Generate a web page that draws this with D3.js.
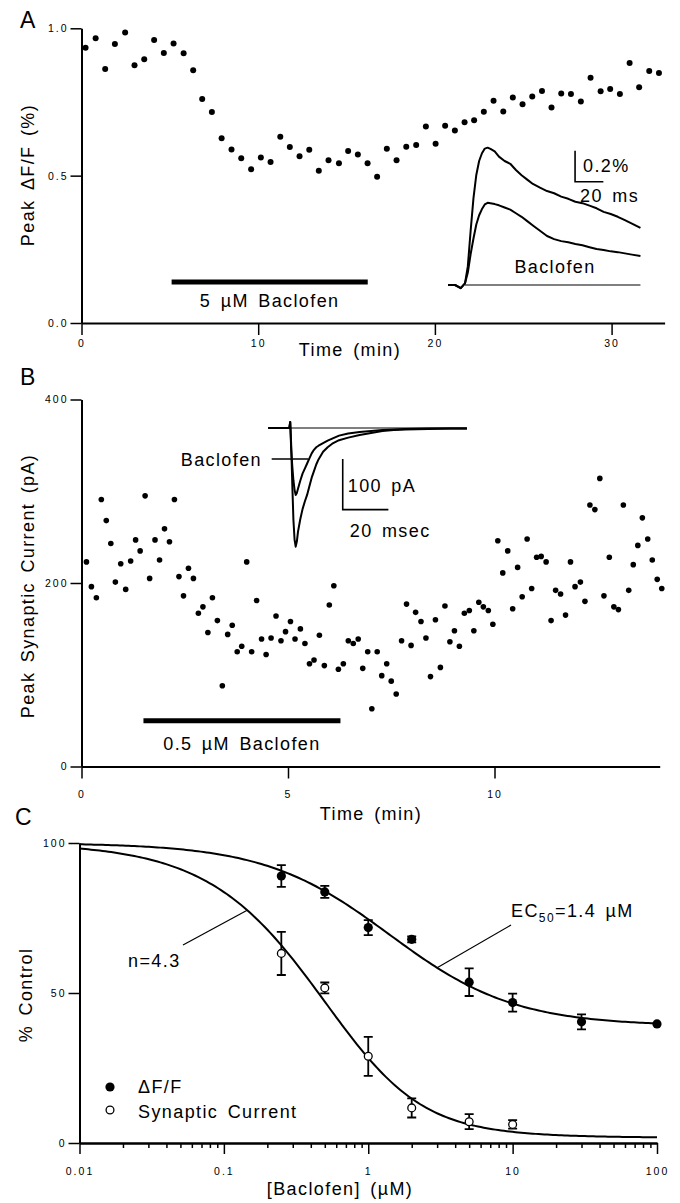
<!DOCTYPE html>
<html>
<head>
<meta charset="utf-8">
<script src="https://cdn.jsdelivr.net/npm/d3@7"></script>
<style>
  body { margin: 0; background: #fff; }
  svg text { font-family: "Liberation Sans", Arial, Helvetica, sans-serif; fill: #000; }
  .lab { font-size: 18px; letter-spacing: 1.4px; word-spacing: 3px; }
  .panel { font-size: 23px; }
</style>
</head>
<body>
<svg id="fig" width="680" height="1203"></svg>
<script>
// ---------- Panel A: peak ΔF/F during 5 µM baclofen ----------
const timeA = [0.23,0.80,1.34,1.89,2.47,3.00,3.55,4.11,4.66,5.21,5.78,6.32,6.83,7.38,7.93,8.49,9.04,9.60,10.15,10.70,
  11.25,11.79,12.34,12.89,13.43,13.98,14.57,15.09,15.64,16.19,16.73,17.28,17.83,18.38,18.94,19.49,20.04,20.58,21.13,21.68,
  22.22,22.77,23.32,23.87,24.41,24.96,25.51,26.06,26.60,27.15,27.70,28.26,28.81,29.38,29.92,30.47,31.02,31.56,32.13,32.68];
const dffA = [0.934,0.966,0.862,0.947,0.986,0.875,0.895,0.960,0.916,0.948,0.915,0.858,0.760,0.716,0.627,0.589,0.559,0.522,0.562,0.546,
  0.632,0.597,0.566,0.588,0.517,0.552,0.542,0.584,0.572,0.542,0.496,0.591,0.552,0.598,0.604,0.667,0.608,0.669,0.653,0.681,
  0.688,0.717,0.754,0.718,0.765,0.742,0.769,0.787,0.731,0.779,0.777,0.752,0.832,0.786,0.794,0.777,0.882,0.800,0.855,0.848];
const drugA = [5.1, 16.2];
const xTicksA = [0, 10, 20, 30];
const yTicksA = [0, 0.5, 1.0];

// inset: fluorescence transients (ms, % ΔF/F)
const insetTimeA = [0,5,9,12,14,16,18,20,22,24,26,28,30,33,36,40,44,48,52,56,60,65,70,75,80,85,90,95,100,105,110,115,120,125,130,136];
const insetCtrlA = [0,0,-0.02,0.01,0.12,0.35,0.56,0.71,0.80,0.85,0.88,0.886,0.878,0.862,0.828,0.800,0.782,0.742,0.708,0.680,0.652,0.628,0.606,0.592,0.570,0.556,0.537,0.528,0.512,0.495,0.472,0.458,0.440,0.418,0.396,0.368];
const insetBacA  = [0,0,-0.02,0.01,0.08,0.20,0.30,0.39,0.45,0.49,0.52,0.530,0.527,0.522,0.514,0.500,0.486,0.463,0.440,0.412,0.384,0.350,0.316,0.296,0.283,0.276,0.264,0.256,0.244,0.232,0.226,0.217,0.212,0.204,0.196,0.187];

// ---------- Panel B: peak synaptic current during 0.5 µM baclofen ----------
const timeB = [0.12,0.24,0.36,0.48,0.60,0.71,0.82,0.95,1.07,1.19,1.31,1.42,1.54,1.65,1.78,1.89,2.01,2.13,2.25,2.36,
  2.47,2.59,2.71,2.83,2.94,3.06,3.17,3.29,3.41,3.54,3.65,3.77,3.88,4.00,4.12,4.24,4.36,4.47,4.59,4.71,
  4.83,4.94,5.06,5.17,5.30,5.41,5.52,5.63,5.76,5.88,6.00,6.11,6.22,6.34,6.46,6.58,6.70,6.81,6.93,7.03,
  7.16,7.27,7.39,7.50,7.62,7.75,7.87,7.98,8.09,8.22,8.34,8.45,8.57,8.69,8.80,8.92,9.03,9.15,9.27,9.39,
  9.50,9.62,9.73,9.85,9.96,10.08,10.20,10.32,10.44,10.56,10.67,10.79,10.90,11.02,11.13,11.25,11.37,11.48,11.60,11.72,
  11.84,11.95,12.08,12.19,12.31,12.43,12.55,12.65,12.78,12.89,13.00,13.12,13.25,13.36,13.47,13.58,13.71,13.82,13.94,14.05];
const currentB = [223,196,184,291,268,243,201,221,193,224,247,235,295,205,247,225,259,245,291,207,
  186,216,205,167,174,146,184,159,88,144,154,125,131,223,125,181,139,122,140,164,
  137,147,158,139,150,134,112,116,143,110,176,197,106,112,137,134,139,107,125,63,
  125,99,112,93,79,137,177,132,168,158,140,98,160,108,175,136,148,131,167,170,
  148,179,174,170,155,246,211,235,172,217,185,248,194,228,229,223,159,192,188,165,
  223,196,201,180,285,280,314,186,228,174,171,285,192,220,241,271,248,225,204,194];
const drugB = [1.5, 6.27];
const xTicksB = [0, 5, 10];
const yTicksB = [0, 200, 400];

// inset: synaptic currents (ms, pA)
const insetTimeB = [0,4,8,9.2,9.6,10,10.5,11,11.5,12,12.5,13,14,15,16,17,18,19,20,21,22,24,26,28,31,35,40,45,50,55,60,70,80,87];
const insetCtrlB = [0,0,0,0,12,-30,-110,-181,-220,-234,-224,-205,-180,-160,-145,-132,-115,-98,-85,-72,-62,-47,-38,-31,-24,-19,-14,-10,-6,-4,-3,-2,-1,-1];
const insetBacB  = [0,0,0,0,12,-40,-75,-103,-122,-132,-128,-120,-104,-90,-80,-70,-60,-50,-43,-38,-35,-30,-25,-21,-15,-11,-8,-6,-4,-3,-2,-1,-1,-1];

// ---------- Panel C: concentration dependence ----------
const concDff = [0.25, 0.5, 1, 2, 5, 10, 30, 100];
const dffMean = [89.0, 83.7, 71.8, 67.9, 53.6, 46.8, 40.4, 39.7];
const dffSem  = [3.6, 2.0, 2.5, 1.0, 4.6, 3.0, 2.5, 0];
const concSyn = [0.25, 0.5, 1, 2, 5, 10];
const synMean = [63.2, 51.7, 28.9, 11.7, 7.1, 6.2];
const synSem  = [7.2, 1.8, 6.5, 3.2, 2.5, 1.4];
const xTicksC = [0.01, 0.1, 1, 10, 100];
const yTicksC = [0, 50, 100];
// Hill fit to ΔF/F; synaptic current follows (ΔF/F)^n
const EC50 = 1.4, hill = 1.0, bottom = 39, power = 4.3;
const dffFit = c => bottom + (100 - bottom) / (1 + Math.pow(c / EC50, hill));
const synFit = c => 100 * Math.pow(dffFit(c) / 100, power);

// ---------- drawing ----------
const svg = d3.select("#fig");
svg.append("rect").attr("width", 680).attr("height", 1203).attr("fill", "#fff");

function styleAxis(g) {
  g.attr("font-family", null).attr("font-size", null);
  g.select(".domain").attr("stroke-width", 2);
  g.selectAll(".tick line").attr("stroke-width", 1.5);
  g.selectAll(".tick text")
    .style("font-size", "10.5px")
    .style("letter-spacing", "2px");
}

function label(g, text, x, y, anchor) {
  return g.append("text").attr("class", "lab").attr("x", x).attr("y", y)
    .attr("text-anchor", anchor || "middle").text(text);
}
function vlabel(g, text, x, y) {
  return g.append("text").attr("class", "lab")
    .attr("transform", `translate(${x},${y}) rotate(-90)`)
    .attr("text-anchor", "middle").text(text);
}

// ===== Panel A =====
const gA = svg.append("g");
const xA = d3.scaleLinear().domain([0, 33]).range([81.5, 664.6]);
const yA = d3.scaleLinear().domain([0, 1]).range([323, 28.3]);

gA.append("g").attr("transform", "translate(0,323)")
  .call(d3.axisBottom(xA).tickValues(xTicksA).tickSize(12).tickSizeOuter(0).tickPadding(5))
  .call(styleAxis);
gA.append("g").attr("transform", "translate(81.5,0)")
  .call(d3.axisLeft(yA).tickValues(yTicksA).tickFormat(d3.format(".1f")).tickSize(11).tickSizeOuter(0).tickPadding(2))
  .call(styleAxis);

gA.selectAll("circle.pt").data(timeA).join("circle").attr("class", "pt")
  .attr("cx", (d) => xA(d)).attr("cy", (d, i) => yA(dffA[i])).attr("r", 3).attr("fill", "#000");

gA.append("line").attr("x1", xA(drugA[0])).attr("x2", xA(drugA[1]))
  .attr("y1", 282).attr("y2", 282).attr("stroke", "#000").attr("stroke-width", 5);
label(gA, "5 µM Baclofen", (xA(drugA[0]) + xA(drugA[1])) / 2, 307);

gA.append("text").attr("class", "panel").attr("x", 20).attr("y", 28).text("A");
vlabel(gA, "Peak ΔF/F (%)", 34, 175);
label(gA, "Time (min)", 350, 356);

// inset A
const xIA = d3.scaleLinear().domain([0, 136]).range([448, 448 + 136 * 1.415]);
const yIA = d3.scaleLinear().domain([0, 0.9]).range([285, 285 - 0.9 * 155]);
gA.append("line").attr("x1", xIA(12)).attr("x2", xIA(136)).attr("y1", yIA(0)).attr("y2", yIA(0))
  .attr("stroke", "#000").attr("stroke-width", 1);
const lineIA = d3.line().x((d, i) => xIA(insetTimeA[i])).y(d => yIA(d));
[insetCtrlA, insetBacA].forEach(tr => {
  gA.append("path").attr("d", lineIA(tr)).attr("fill", "none").attr("stroke", "#000")
    .attr("stroke-width", 2).attr("stroke-linejoin", "round");
});
// scale bar: 0.2 % / 20 ms
const sbA = { t: 89.8, v: 0.666 };
gA.append("path")
  .attr("d", `M${xIA(sbA.t)},${yIA(sbA.v + 0.2)}V${yIA(sbA.v)}H${xIA(sbA.t + 20)}`)
  .attr("fill", "none").attr("stroke", "#000").attr("stroke-width", 1.6);
label(gA, "0.2%", xIA(sbA.t) + 8, 171.7, "start");
label(gA, "20 ms", xIA(sbA.t) + 5, 201.7, "start");
label(gA, "Baclofen", 555, 273);

// ===== Panel B =====
const gB = svg.append("g");
const xB = d3.scaleLinear().domain([0, 14]).range([81.5, 81.5 + 14 * 41.3]);
const yB = d3.scaleLinear().domain([0, 400]).range([766.5, 399.5]);

gB.append("g").attr("transform", "translate(0,766.5)")
  .call(d3.axisBottom(xB).tickValues(xTicksB).tickSize(12).tickSizeOuter(0).tickPadding(12))
  .call(styleAxis);
gB.append("g").attr("transform", "translate(81.5,0)")
  .call(d3.axisLeft(yB).tickValues(yTicksB).tickSize(11).tickSizeOuter(0).tickPadding(2))
  .call(styleAxis);

gB.selectAll("circle.pt").data(timeB).join("circle").attr("class", "pt")
  .attr("cx", d => xB(d)).attr("cy", (d, i) => yB(currentB[i])).attr("r", 2.8).attr("fill", "#000");

gB.append("line").attr("x1", xB(drugB[0])).attr("x2", xB(drugB[1]))
  .attr("y1", 720.7).attr("y2", 720.7).attr("stroke", "#000").attr("stroke-width", 5);
label(gB, "0.5 µM Baclofen", (xB(drugB[0]) + xB(drugB[1])) / 2, 750);

gB.append("text").attr("class", "panel").attr("x", 20).attr("y", 385).text("B");
vlabel(gB, "Peak Synaptic Current (pA)", 34, 586);
label(gB, "Time (min)", 371, 820);

// inset B
const xIB = d3.scaleLinear().domain([0, 87]).range([268.3, 268.3 + 87 * 2.283]);
const yIB = d3.scaleLinear().domain([-250, 0]).range([428 + 250 * 0.507, 428]);
gB.append("line").attr("x1", xIB(0)).attr("x2", xIB(87)).attr("y1", yIB(0)).attr("y2", yIB(0))
  .attr("stroke", "#000").attr("stroke-width", 1);
const lineIB = d3.line().x((d, i) => xIB(insetTimeB[i])).y(d => yIB(d));
[insetCtrlB, insetBacB].forEach(tr => {
  gB.append("path").attr("d", lineIB(tr)).attr("fill", "none").attr("stroke", "#000")
    .attr("stroke-width", 2).attr("stroke-linejoin", "round");
});
// scale bar: 100 pA / 20 ms
const sbB = { t: 32.6, v: -161 };
gB.append("path")
  .attr("d", `M${xIB(sbB.t)},${yIB(sbB.v + 100)}V${yIB(sbB.v)}H${xIB(sbB.t + 20)}`)
  .attr("fill", "none").attr("stroke", "#000").attr("stroke-width", 1.6);
label(gB, "100 pA", xIB(sbB.t) + 5, 491.7, "start");
label(gB, "20 msec", xIB(sbB.t) + 7, 536.7, "start");
label(gB, "Baclofen", 262, 466, "end");
gB.append("line").attr("x1", 271.7).attr("x2", xIB(17.5)).attr("y1", 459).attr("y2", 459)
  .attr("stroke", "#000").attr("stroke-width", 1.5);

// ===== Panel C =====
const gC = svg.append("g");
const xC = d3.scaleLog().domain([0.01, 100]).range([79.5, 657]);
const yC = d3.scaleLinear().domain([0, 100]).range([1143, 843]);

const minorC = [];
[0.01, 0.1, 1, 10].forEach(dec => d3.range(2, 10).forEach(k => minorC.push(k * dec)));
gC.append("g").attr("transform", "translate(0,1143)")
  .call(d3.axisBottom(xC).tickValues(minorC).tickFormat("").tickSize(5).tickSizeOuter(0))
  .call(styleAxis);
gC.append("g").attr("transform", "translate(0,1143)")
  .call(d3.axisBottom(xC).tickValues(xTicksC).tickFormat(d => String(d)).tickSize(11).tickSizeOuter(0).tickPadding(14))
  .call(styleAxis);
gC.append("g").attr("transform", "translate(79.5,0)")
  .call(d3.axisLeft(yC).tickValues(yTicksC).tickSize(11).tickSizeOuter(0).tickPadding(2))
  .call(styleAxis);

// fitted curves
const cGrid = d3.range(-2, 2.0001, 0.02).map(e => Math.pow(10, e));
const fitLine = f => d3.line().x(c => xC(c)).y(c => yC(f(c)))(cGrid);
gC.append("path").attr("d", fitLine(dffFit)).attr("fill", "none").attr("stroke", "#000").attr("stroke-width", 2);
gC.append("path").attr("d", fitLine(synFit)).attr("fill", "none").attr("stroke", "#000").attr("stroke-width", 2);

// error bars
function errBars(conc, mean, sem) {
  conc.forEach((c, i) => {
    if (!sem[i]) return;
    const x = xC(c), y0 = yC(mean[i] - sem[i]), y1 = yC(mean[i] + sem[i]);
    gC.append("path").attr("d", `M${x},${y0}V${y1}M${x - 4.5},${y0}H${x + 4.5}M${x - 4.5},${y1}H${x + 4.5}`)
      .attr("fill", "none").attr("stroke", "#000").attr("stroke-width", 1.8);
  });
}
errBars(concDff, dffMean, dffSem);
errBars(concSyn, synMean, synSem);

gC.selectAll("circle.dff").data(concDff).join("circle").attr("class", "dff")
  .attr("cx", d => xC(d)).attr("cy", (d, i) => yC(dffMean[i])).attr("r", 4.6).attr("fill", "#000");
gC.selectAll("circle.syn").data(concSyn).join("circle").attr("class", "syn")
  .attr("cx", d => xC(d)).attr("cy", (d, i) => yC(synMean[i])).attr("r", 3.9)
  .attr("fill", "#fff").attr("stroke", "#000").attr("stroke-width", 1.3);

// annotations
const nAt = 0.145, ecAt = 3.0;
gC.append("line").attr("x1", 183).attr("y1", 945).attr("x2", xC(nAt)).attr("y2", yC(synFit(nAt)))
  .attr("stroke", "#000").attr("stroke-width", 1.2);
label(gC, "n=4.3", 128, 967, "start");
gC.append("line").attr("x1", 511).attr("y1", 925).attr("x2", xC(ecAt)).attr("y2", yC(dffFit(ecAt)))
  .attr("stroke", "#000").attr("stroke-width", 1.2);
const ec = gC.append("text").attr("class", "lab").attr("x", 511).attr("y", 917);
ec.append("tspan").text("EC");
ec.append("tspan").attr("dy", 5).style("font-size", "12px").text("50");
ec.append("tspan").attr("dy", -5).text("=1.4 µM");

// legend
gC.append("circle").attr("cx", 110).attr("cy", 1087).attr("r", 4.6).attr("fill", "#000");
label(gC, "ΔF/F", 138, 1093, "start");
gC.append("circle").attr("cx", 110).attr("cy", 1110).attr("r", 3.9).attr("fill", "#fff")
  .attr("stroke", "#000").attr("stroke-width", 1.3);
label(gC, "Synaptic Current", 138, 1118, "start");

gC.append("text").attr("class", "panel").attr("x", 15).attr("y", 825).text("C");
vlabel(gC, "% Control", 32, 995);
label(gC, "[Baclofen] (µM)", 340, 1195);
</script>
</body>
</html>
